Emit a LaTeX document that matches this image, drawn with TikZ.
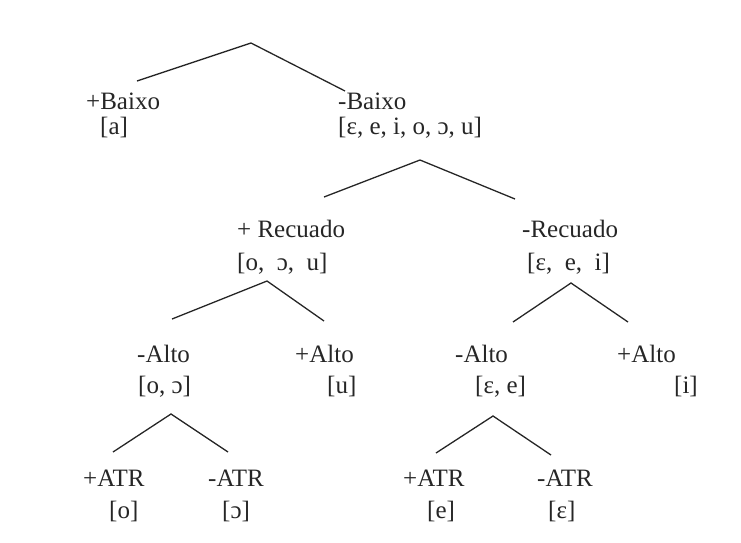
\documentclass[tikz,border=0pt]{standalone}
\usepackage{fontspec}
\setmainfont{Liberation Serif}
\begin{document}
\begin{tikzpicture}[x=1pt,y=-1pt,
  lbl/.style={anchor=base west,inner sep=0pt,font=\fontsize{25}{29}\selectfont,text=black!85},
  branch/.style={line width=1.3pt,draw=black!85,line join=miter}]
\useasboundingbox (0,0) rectangle (741,542);

% Level 1: [baixo]
\coordinate (t1) at (251,43);
\coordinate (t1l) at (137,81);
\coordinate (t1r) at (345,91);
\draw[branch] (t1l) -- (t1) -- (t1r);
\node[lbl] (pbaixo) at (86,109) {+Baixo};
\node[lbl] (pbaixoS) at (100,134) {[a]};
\node[lbl] (mbaixo) at (338,109) {-Baixo};
\node[lbl] (mbaixoS) at (338,134) {[ɛ, e, i, o, ɔ, u]};

% Level 2: [recuado]
\coordinate (t2) at (420,160);
\coordinate (t2l) at (324,197);
\coordinate (t2r) at (515,199);
\draw[branch] (t2l) -- (t2) -- (t2r);
\node[lbl] (prec) at (237,237) {+ Recuado};
\node[lbl] (precS) at (237,270) {[o,\ \ ɔ,\ \ u]};
\node[lbl] (mrec) at (522,237) {-Recuado};
\node[lbl] (mrecS) at (527,270) {[ɛ,\ \ e,\ \ i]};

% Level 3: [alto], back vowels
\coordinate (t3a) at (267,281);
\coordinate (t3al) at (172,319);
\coordinate (t3ar) at (324,321);
\draw[branch] (t3al) -- (t3a) -- (t3ar);
\node[lbl] (maltoA) at (137,362) {-Alto};
\node[lbl] (maltoAS) at (138,393) {[o, ɔ]};
\node[lbl] (paltoA) at (295,362) {+Alto};
\node[lbl] (paltoAS) at (327,393) {[u]};

% Level 3: [alto], front vowels
\coordinate (t3b) at (571,283);
\coordinate (t3bl) at (513,322);
\coordinate (t3br) at (628,322);
\draw[branch] (t3bl) -- (t3b) -- (t3br);
\node[lbl] (maltoB) at (455,362) {-Alto};
\node[lbl] (maltoBS) at (475,393) {[ɛ, e]};
\node[lbl] (paltoB) at (617,362) {+Alto};
\node[lbl] (paltoBS) at (674,393) {[i]};

% Level 4: [ATR], back mid vowels
\coordinate (t4a) at (171,414);
\coordinate (t4al) at (113,452);
\coordinate (t4ar) at (228,452);
\draw[branch] (t4al) -- (t4a) -- (t4ar);
\node[lbl] (patrA) at (83,486) {+ATR};
\node[lbl] (patrAS) at (109,518) {[o]};
\node[lbl] (matrA) at (208,486) {-ATR};
\node[lbl] (matrAS) at (222,518) {[ɔ]};

% Level 4: [ATR], front mid vowels
\coordinate (t4b) at (493,416);
\coordinate (t4bl) at (436,453);
\coordinate (t4br) at (551,455);
\draw[branch] (t4bl) -- (t4b) -- (t4br);
\node[lbl] (patrB) at (403,486) {+ATR};
\node[lbl] (patrBS) at (427,518) {[e]};
\node[lbl] (matrB) at (537,486) {-ATR};
\node[lbl] (matrBS) at (548,518) {[ɛ]};
\end{tikzpicture}
\end{document}
